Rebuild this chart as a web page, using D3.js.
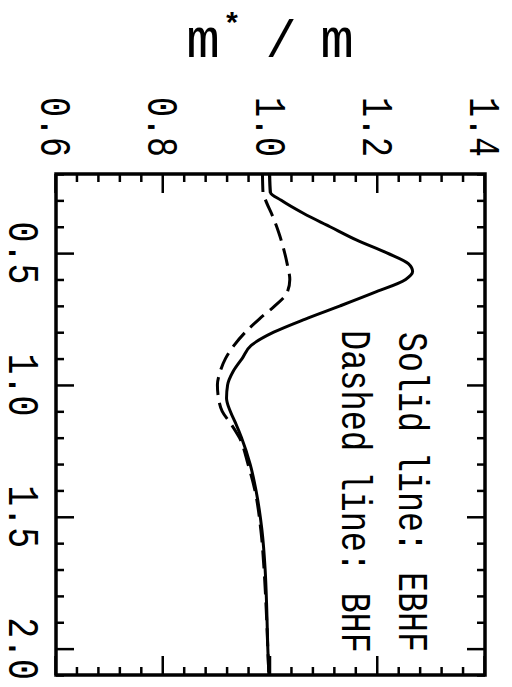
<!DOCTYPE html>
<html>
<head>
<meta charset="utf-8">
<script src="https://cdn.jsdelivr.net/npm/d3@7"></script>
<style>
  body { margin: 0; background: #fff; }
  svg { display: block; }
</style>
</head>
<body>
<svg id="chart" width="512" height="687"></svg>
<script>
// momentum k/kF and effective mass ratio m*/m
const ebhfK = [0.20, 0.27, 0.30, 0.35, 0.40, 0.45, 0.50, 0.54, 0.57, 0.60, 0.65, 0.70, 0.75, 0.80, 0.85, 0.90, 0.95, 1.00, 1.05, 1.10, 1.15, 1.20, 1.30, 1.40, 1.55, 1.70, 1.85, 2.00, 2.10];
const ebhfMass = [0.998, 1.000, 1.020, 1.062, 1.111, 1.160, 1.218, 1.257, 1.265, 1.252, 1.193, 1.130, 1.065, 1.006, 0.964, 0.947, 0.930, 0.920, 0.918, 0.925, 0.936, 0.946, 0.962, 0.973, 0.984, 0.990, 0.993, 0.995, 0.997];

const bhfK = [0.20, 0.27, 0.30, 0.36, 0.42, 0.48, 0.54, 0.60, 0.65, 0.70, 0.75, 0.80, 0.85, 0.90, 0.95, 1.00, 1.05, 1.10, 1.15, 1.20, 1.30, 1.40, 1.55, 1.70, 1.85, 2.00, 2.10];
const bhfMass = [0.985, 0.986, 0.991, 1.004, 1.015, 1.024, 1.031, 1.036, 1.031, 1.008, 0.979, 0.953, 0.932, 0.916, 0.906, 0.901, 0.903, 0.910, 0.927, 0.942, 0.958, 0.971, 0.982, 0.988, 0.992, 0.995, 0.997];

const kTicks = [0.5, 1.0, 1.5, 2.0];
const kTickLabels = ["0.5", "1.0", "1.5", "2.0"];
const massTicks = [0.6, 0.8, 1.0, 1.2, 1.4];
const massTickLabels = ["0.6", "0.8", "1.0", "1.2", "1.4"];
const legendLabels = ["Solid line: EBHF", "Dashed line: BHF"];

const svg = d3.select("#chart");
const W = 501, H = 429;
const font = "'Liberation Mono', 'DejaVu Sans Mono', monospace";

// the whole plot is drawn upright, then turned a quarter turn clockwise
const g = svg.append("g").attr("transform", "translate(485,174) rotate(90)");

const x = d3.scaleLinear().domain([0.2, 2.1]).range([0, W]);
const y = d3.scaleLinear().domain([0.6, 1.4]).range([H, 0]);

const kMinor = d3.range(2, 22).map(i => i / 10).filter(v => !kTicks.some(t => Math.abs(t - v) < 1e-6));
const massMinor = d3.range(15, 36).map(i => i * 0.04).filter(v => !massTicks.some(t => Math.abs(t - v) < 1e-6));

function ticks(axis, values, size, tr) {
    const a = g.append("g").attr("transform", tr)
        .call(axis.tickValues(values).tickSize(-size).tickFormat(""));
    a.select(".domain").remove();
    a.selectAll("line").attr("stroke", "#000").attr("stroke-width", 2.5);
    return a;
}

ticks(d3.axisBottom(x), kMinor, 8, `translate(0,${H})`);
ticks(d3.axisTop(x), kMinor, 8, "translate(0,0)");
ticks(d3.axisBottom(x), kTicks, 18, `translate(0,${H})`);
ticks(d3.axisTop(x), kTicks, 18, "translate(0,0)");
ticks(d3.axisLeft(y), massMinor, 8, "translate(0,0)");
ticks(d3.axisRight(y), massMinor, 8, `translate(${W},0)`);
ticks(d3.axisLeft(y), massTicks, 19, "translate(0,0)");
ticks(d3.axisRight(y), massTicks, 19, `translate(${W},0)`);

g.append("rect").attr("width", W).attr("height", H)
    .attr("fill", "none").attr("stroke", "#000").attr("stroke-width", 3.5);

// tick labels
g.append("g").selectAll("text").data(kTicks).join("text")
    .attr("x", d => x(d)).attr("y", H + 47)
    .attr("text-anchor", "middle")
    .attr("font-family", font).attr("font-size", 44)
    .attr("textLength", 63).attr("lengthAdjust", "spacingAndGlyphs")
    .text((d, i) => kTickLabels[i]);

g.append("g").selectAll("text").data(massTicks).join("text")
    .attr("x", -17).attr("y", d => y(d)).attr("dy", "0.33em")
    .attr("text-anchor", "end")
    .attr("font-family", font).attr("font-size", 45)
    .attr("textLength", 60).attr("lengthAdjust", "spacingAndGlyphs")
    .text((d, i) => massTickLabels[i]);

// curves
const line = d3.line().x(d => x(d[0])).y(d => y(d[1])).curve(d3.curveMonotoneX);

g.append("path")
    .attr("d", line(ebhfK.map((k, i) => [k, ebhfMass[i]])))
    .attr("fill", "none").attr("stroke", "#000").attr("stroke-width", 3);

g.append("path")
    .attr("d", line(bhfK.map((k, i) => [k, bhfMass[i]])))
    .attr("fill", "none").attr("stroke", "#000").attr("stroke-width", 3)
    .attr("stroke-dasharray", "18,8");

// legend text
g.append("g").selectAll("text").data(legendLabels).join("text")
    .attr("x", (d, i) => i === 0 ? 158 : 156)
    .attr("y", (d, i) => i === 0 ? 86 : 143)
    .attr("font-family", font).attr("font-size", 43)
    .attr("textLength", (d, i) => i === 0 ? 320 : 323)
    .attr("lengthAdjust", "spacingAndGlyphs")
    .text(d => d);

// axis title, upright on the page
const title = svg.append("g").attr("font-family", font);
title.append("text").attr("x", 203).attr("y", 57).attr("text-anchor", "middle")
    .attr("font-size", 56).text("m");
title.append("text").attr("x", 232).attr("y", 34).attr("text-anchor", "middle")
    .attr("font-size", 30).attr("font-weight", "bold").text("*");
title.append("text").attr("x", 281).attr("y", 57).attr("text-anchor", "middle")
    .attr("font-size", 52).text("/");
title.append("text").attr("x", 337).attr("y", 57).attr("text-anchor", "middle")
    .attr("font-size", 56).text("m");
</script>
</body>
</html>
